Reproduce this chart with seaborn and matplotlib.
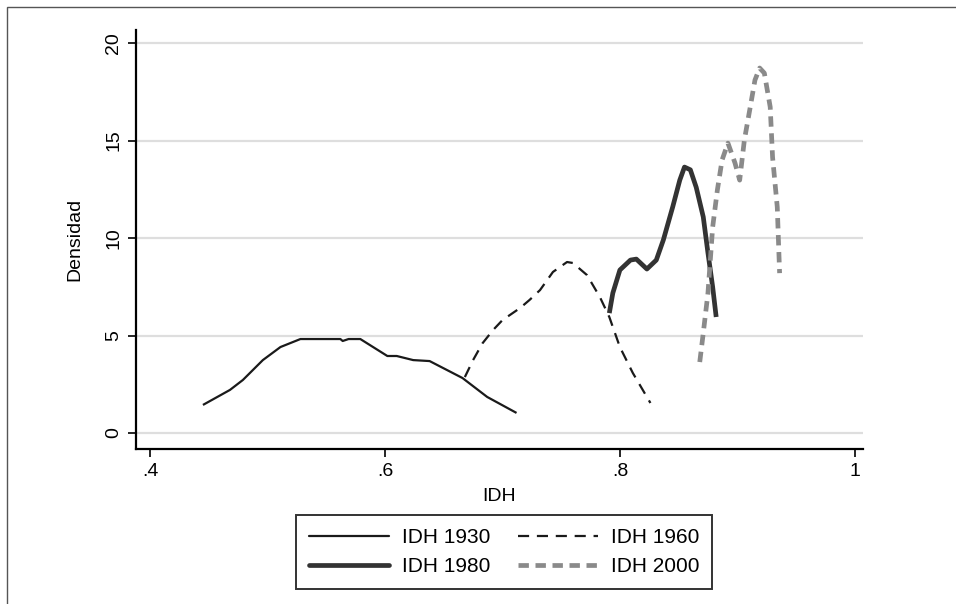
import numpy as np
import pandas as pd
import matplotlib
matplotlib.use("Agg")
import matplotlib.pyplot as plt
from matplotlib.patches import Rectangle
from matplotlib.lines import Line2D
import seaborn as sns

# ---- data ----
x1930 = [0.445, 0.468, 0.479, 0.496, 0.511, 0.528, 0.562, 0.564, 0.569, 0.579,
         0.602, 0.610, 0.624, 0.638, 0.666, 0.687, 0.712]
y1930 = [1.44, 2.21, 2.72, 3.74, 4.41, 4.82, 4.82, 4.72, 4.82, 4.82,
         3.95, 3.95, 3.74, 3.69, 2.82, 1.85, 1.03]

x1960 = [0.668, 0.675, 0.683, 0.692, 0.700, 0.715, 0.723, 0.732, 0.743, 0.755,
         0.760, 0.772, 0.783, 0.791, 0.800, 0.811, 0.826]
y1960 = [2.87, 3.74, 4.60, 5.28, 5.79, 6.41, 6.82, 7.33, 8.26, 8.77,
         8.72, 8.10, 6.97, 5.95, 4.41, 3.08, 1.54]

x1980 = [0.791, 0.794, 0.800, 0.809, 0.814, 0.823, 0.831, 0.837, 0.845, 0.851,
         0.855, 0.860, 0.865, 0.871, 0.875, 0.879, 0.882]
y1980 = [6.15, 7.18, 8.36, 8.87, 8.92, 8.41, 8.87, 9.90, 11.60, 12.97,
         13.64, 13.50, 12.60, 11.08, 9.23, 7.49, 5.95]

x2000 = [0.868, 0.871, 0.875, 0.879, 0.883, 0.887, 0.892, 0.898, 0.902, 0.906,
         0.911, 0.915, 0.919, 0.923, 0.928, 0.930, 0.934, 0.936]
y2000 = [3.64, 5.13, 7.18, 10.56, 12.46, 14.00, 14.87, 13.85, 12.97, 15.03,
         16.72, 18.10, 18.72, 18.46, 16.72, 14.15, 11.59, 8.20]

series_names = ["IDH 1930", "IDH 1960", "IDH 1980", "IDH 2000"]
xticks = [0.4, 0.6, 0.8, 1.0]
xtick_labels = [".4", ".6", ".8", "1"]
yticks = [0, 5, 10, 15, 20]

# ---- styling ----
sns.set_style("white")
plt.rcParams['font.family'] = ['Liberation Sans', 'DejaVu Sans']
plt.rcParams['text.color'] = 'black'
plt.rcParams['axes.labelcolor'] = 'black'
plt.rcParams['xtick.color'] = 'black'
plt.rcParams['ytick.color'] = 'black'

fig = plt.figure(figsize=(9.56, 6.04), dpi=100)
ax = fig.add_axes([136/956, 1-449/604, (863-136)/956, (449-30)/604])

styles = {
    "IDH 1930": dict(color="#1a1a1a", lw=1.6, dashes=None),
    "IDH 1960": dict(color="#1a1a1a", lw=1.6, dashes=(5, 3.5)),
    "IDH 1980": dict(color="#333333", lw=3.4, dashes=None),
    "IDH 2000": dict(color="#8a8a8a", lw=3.4, dashes=(2.2, 1.4)),
}
data = {"IDH 1930": (x1930, y1930), "IDH 1960": (x1960, y1960),
        "IDH 1980": (x1980, y1980), "IDH 2000": (x2000, y2000)}

handles = {}
for name in series_names:
    xs, ys = data[name]
    df = pd.DataFrame({"x": xs, "y": ys})
    st = styles[name]
    sns.lineplot(data=df, x="x", y="y", ax=ax, sort=False, color=st["color"],
                 linewidth=st["lw"], estimator=None)
    ln = ax.lines[-1]
    if st["dashes"] is not None:
        ln.set_dashes(st["dashes"])
    ln.set_solid_capstyle("butt")
    h = Line2D([], [], color=st["color"], lw=st["lw"])
    if st["dashes"] is not None:
        h.set_dashes(st["dashes"])
    handles[name] = h

ax.set_xlim(0.388, 1.007)
ax.set_ylim(-0.82, 20.67)
ax.set_xticks(xticks)
ax.set_xticklabels(xtick_labels)
ax.set_yticks(yticks)
ax.set_yticklabels([str(v) for v in yticks], rotation=90, va="center")
ax.tick_params(axis="both", which="both", direction="out", length=6, width=1.2,
               color="black", labelsize=14, pad=4, bottom=True, left=True,
               labelcolor="black")
for y in yticks:
    ax.axhline(y, color="#dedede", lw=1.6, zorder=0)
for s in ["top", "right"]:
    ax.spines[s].set_visible(False)
for s in ["left", "bottom"]:
    ax.spines[s].set_color("black")
    ax.spines[s].set_linewidth(1.6)

ax.set_xlabel("IDH", fontsize=14, labelpad=6, color="black")
ax.set_ylabel("Densidad", fontsize=14, labelpad=16, color="black")

order = ["IDH 1930", "IDH 1980", "IDH 1960", "IDH 2000"]
leg = fig.legend([handles[n] for n in order], order, ncol=2,
                 loc="center", bbox_to_anchor=(504/956, 1-552/604),
                 frameon=True, fancybox=False, fontsize=15, handlelength=3.85,
                 columnspacing=1.35, handletextpad=0.6, borderpad=0.6,
                 labelspacing=0.5, borderaxespad=0)
leg.get_frame().set_edgecolor("black")
leg.get_frame().set_linewidth(1.4)
for t in leg.get_texts():
    t.set_color("black")

fig.patches.append(Rectangle((7/956, -0.1), 1.2, 1.1 - 7/604, transform=fig.transFigure,
                             fill=False, edgecolor="#555555", lw=1.0))

fig.savefig("out.png", dpi=100)
